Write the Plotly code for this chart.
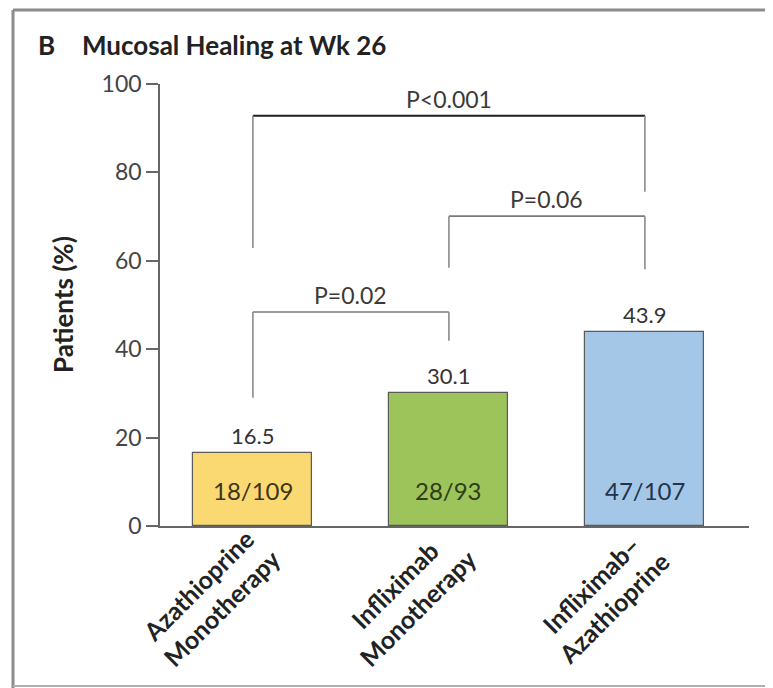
import plotly.graph_objects as go

categories = ["Azathioprine<br>Monotherapy", "Infliximab<br>Monotherapy", "Infliximab–<br>Azathioprine"]
values = [16.5, 30.1, 43.9]
value_labels = ["16.5", "30.1", "43.9"]
counts = ["18/109", "28/93", "47/107"]
bar_colors = ["#FBD972", "#9DC35B", "#A5C7E7"]
count_colors = ["#3d3418", "#2c3d17", "#22344d"]
y_ticks = [0, 20, 40, 60, 80, 100]

# comparisons: (left bar, right bar, bracket height, left foot, right foot, label)
brackets = [
    (0, 2, 92.8, 62.9, 75.6, "P<0.001"),
    (1, 2, 70.1, 58.4, 58.1, "P=0.06"),
    (0, 1, 48.4, 29.0, 41.9, "P=0.02"),
]

FONT = "Lato"
xs = list(range(len(categories)))

# page body adds an 8px offset; compensate so the plot lands where the reference has it
OFF = 8
FIG_W, FIG_H = 773 - OFF, 688 - OFF
L, T, W, H = 160, 84, 589, 442          # plot area in reference pixels
def px(xp):
    return (xp - L) / W
def py(yp):
    return (T + H - yp) / H

fig = go.Figure()
fig.add_trace(go.Bar(
    x=xs, y=values, width=0.607,
    marker=dict(color=bar_colors, line=dict(color="#5a5a5a", width=1.2)),
    hoverinfo="skip",
))

annotations = []
for i, v in enumerate(values):
    annotations.append(dict(x=xs[i], y=v + 4.0, xref="x", yref="y", text=value_labels[i],
                            showarrow=False, yanchor="middle",
                            font=dict(family=FONT, size=22, color="#333333")))
    annotations.append(dict(x=xs[i], y=8.0, xref="x", yref="y", text=counts[i],
                            showarrow=False, yanchor="middle",
                            font=dict(family=FONT, size=24, color=count_colors[i])))
    # rotated category labels
    annotations.append(dict(x=xs[i], xshift=-43, y=py(596), xref="x", yref="paper",
                            text=f"<b>{categories[i]}</b>", showarrow=False, textangle=-45,
                            xanchor="center", yanchor="middle", align="center",
                            font=dict(family=FONT, size=25, color="#222222")))

shapes = []
for k, (a, b, h, fa, fb, lab) in enumerate(brackets):
    hcol = "#1e1e1e" if k == 0 else "#7a7a7a"
    shapes.append(dict(type="line", xref="x", yref="y", x0=xs[a], x1=xs[b], y0=h, y1=h,
                       line=dict(color=hcol, width=2 if k == 0 else 1.6)))
    shapes.append(dict(type="line", xref="x", yref="y", x0=xs[a], x1=xs[a], y0=h, y1=fa,
                       line=dict(color="#8a8a8a", width=1.6)))
    shapes.append(dict(type="line", xref="x", yref="y", x0=xs[b], x1=xs[b], y0=h, y1=fb,
                       line=dict(color="#8a8a8a", width=1.6)))
    annotations.append(dict(x=(xs[a] + xs[b]) / 2, y=h + 3.9, xref="x", yref="y", text=lab,
                            showarrow=False, yanchor="middle",
                            font=dict(family=FONT, size=23, color="#3a3a3a")))

# outer frame (left, top, bottom)
shapes.append(dict(type="line", xref="paper", yref="paper", x0=px(13), x1=px(13), y0=py(10), y1=py(690),
                   line=dict(color="#8c8c8c", width=3)))
shapes.append(dict(type="line", xref="paper", yref="paper", x0=px(13), x1=px(800), y0=py(10), y1=py(10),
                   line=dict(color="#8c8c8c", width=3)))
shapes.append(dict(type="line", xref="paper", yref="paper", x0=px(13), x1=px(800), y0=py(686), y1=py(686),
                   line=dict(color="#b0b0b0", width=2)))

annotations.append(dict(x=px(36), y=py(45), xref="paper", yref="paper", text="<b>B</b>",
                        showarrow=False, xanchor="left", yanchor="middle",
                        font=dict(family=FONT, size=26, color="#222222")))
annotations.append(dict(x=px(80), y=py(45), xref="paper", yref="paper", text="<b>Mucosal Healing at Wk 26</b>",
                        showarrow=False, xanchor="left", yanchor="middle",
                        font=dict(family=FONT, size=26, color="#222222")))
annotations.append(dict(x=px(63), y=0.5, xref="paper", yref="paper", text="<b>Patients (%)</b>",
                        showarrow=False, textangle=-90, xanchor="center", yanchor="middle",
                        font=dict(family=FONT, size=26, color="#222222")))

fig.update_layout(
    width=FIG_W, height=FIG_H,
    margin=dict(l=L - OFF, r=FIG_W - (L - OFF) - W, t=T - OFF, b=FIG_H - (T - OFF) - H),
    plot_bgcolor="white", paper_bgcolor="white",
    showlegend=False,
    bargap=0,
    shapes=shapes, annotations=annotations,
    xaxis=dict(range=[-0.474, 2.531], tickvals=xs, showticklabels=False,
               showline=True, linecolor="#666666", linewidth=1.5,
               ticks="", showgrid=False, zeroline=False),
    yaxis=dict(range=[0, 100], tickvals=y_ticks, showline=True, linecolor="#666666", linewidth=1.5,
               ticks="outside", ticklen=12, tickcolor="#666666", tickwidth=1.5,
               showgrid=False, zeroline=False,
               tickfont=dict(family=FONT, size=23, color="#444444")),
)

fig.write_html("out.html")
